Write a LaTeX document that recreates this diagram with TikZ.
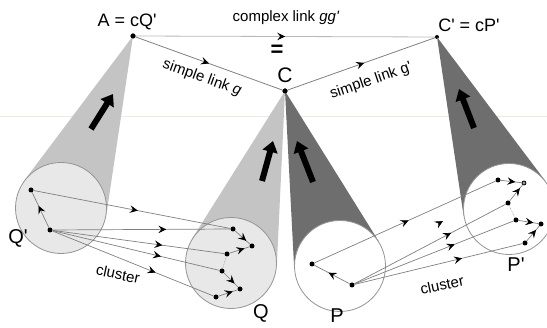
\documentclass[tikz,border=0pt]{standalone}
\usepackage{fontspec}
\setmainfont{Liberation Sans}
\usetikzlibrary{arrows.meta,decorations.markings,calc}
\definecolor{conelight}{HTML}{C4C4C4}
\definecolor{conedark}{HTML}{6E6E6E}
\definecolor{circfill}{HTML}{E8E8E8}
\definecolor{ringgray}{HTML}{959595}
\definecolor{linegray}{HTML}{808080}
\definecolor{toplight}{HTML}{B8B8B8}
\definecolor{scanline}{HTML}{EFEAE3}
\tikzset{
  dotnode/.style={circle, fill=black, inner sep=0pt, minimum size=5pt},
  clus/.style={draw=linegray, line width=0.7pt},
  midarr/.style={postaction={decorate}, decoration={markings, mark=at position #1 with {\arrow{Stealth[length=8pt,width=7.5pt,inset=3pt,color=black]}}}},
  bigarrow/.style={line width=6pt, black, -{Triangle[length=11pt,width=15pt]}},
  ring/.style={circle, inner sep=0pt, minimum size=91pt, draw=ringgray, line width=0.8pt},
  lbl/.style={inner sep=0pt, font=\fontsize{15}{15}\selectfont},
  biglbl/.style={inner sep=0pt, font=\fontsize{20}{20}\selectfont},
}
\begin{document}
\begin{tikzpicture}[x=1pt,y=-1pt]
\useasboundingbox (0,0) rectangle (547,328);
% faint scan line
\draw[scanline, line width=1pt] (0,117) -- (547,117);

% apex points
\node[dotnode] (A) at (133,36) {};
\node[dotnode] (C) at (285,91) {};
\node[dotnode, minimum size=4pt] (Cp) at (437,37) {};

% circle nodes (invisible first, for tangents)
\node[ring, draw=none] (Qp) at (61,208) {};
\node[ring, draw=none] (Q) at (231,263) {};
\node[ring, draw=none] (P) at (340,266) {};
\node[ring, draw=none] (Pp) at (509,209) {};

% cones
\fill[conelight] (A.center) -- (tangent cs:node=Qp,point={(A.center)},solution=1) -- (Qp.center) -- (tangent cs:node=Qp,point={(A.center)},solution=2) -- cycle;
\fill[conelight] (C.center) -- (tangent cs:node=Q,point={(C.center)},solution=1) -- (Q.center) -- (tangent cs:node=Q,point={(C.center)},solution=2) -- cycle;
\fill[conedark] (C.center) -- (tangent cs:node=P,point={(C.center)},solution=1) -- (P.center) -- (tangent cs:node=P,point={(C.center)},solution=2) -- cycle;
\fill[conedark] (Cp.center) -- (tangent cs:node=Pp,point={(Cp.center)},solution=1) -- (Pp.center) -- (tangent cs:node=Pp,point={(Cp.center)},solution=2) -- cycle;

% circles
\node[ring, fill=circfill] at (Qp.center) {};
\node[ring, fill=circfill] at (Q.center) {};
\node[ring, fill=white] at (P.center) {};
\node[ring, fill=white] at (Pp.center) {};

% big black arrows
\coordinate (ba1) at (91,129); \coordinate (ba1t) at (113,94);
\coordinate (ba2) at (262,181); \coordinate (ba2t) at (273,141);
\coordinate (ba3) at (313,182); \coordinate (ba3t) at (297,141);
\coordinate (ba4) at (474,128); \coordinate (ba4t) at (459,89);
\draw[bigarrow] (ba1) -- (ba1t);
\draw[bigarrow] (ba2) -- (ba2t);
\draw[bigarrow] (ba3) -- (ba3t);
\draw[bigarrow] (ba4) -- (ba4t);

% top links
\draw[toplight, line width=0.8pt, midarr=0.5] (A) -- (Cp);
\draw[linegray, line width=0.8pt, midarr=0.5] (A) -- (C);
\draw[linegray, line width=0.8pt, midarr=0.52] (C) -- (Cp);
\node[dotnode] at (A) {};
\node[dotnode] at (C) {};

% labels top
\node[inner sep=0pt, font=\fontsize{18}{18}\selectfont] (lA) at (127,22) {A = cQ\textquotesingle};
\node[lbl] (lgg) at (286,18) {complex link \textit{gg\textquotesingle}};
\node[inner sep=0pt, font=\fontsize{22}{22}\selectfont\bfseries] (leq) at (277,51) {=};
\node[inner sep=0pt, font=\fontsize{21}{21}\selectfont] (lC) at (285,75) {C};
\node[inner sep=0pt, font=\fontsize{18}{18}\selectfont] (lCp) at (469,25) {C\textquotesingle{} = cP\textquotesingle};
\node[lbl, rotate=-20] (lg) at (202,78) {simple link \textit{g}};
\node[lbl, rotate=19] (lgp) at (371,81) {simple link g\textquotesingle};

% left cluster Q' -> Q
\node[dotnode] (q1) at (31,190) {};
\node[dotnode] (q0) at (50,230) {};
\node[dotnode] (n1) at (233,229) {};
\node[dotnode] (n2) at (252,246) {};
\node[dotnode] (n3) at (227,254) {};
\node[dotnode] (n4) at (222,271) {};
\node[dotnode] (n5) at (240,289) {};
\node[dotnode] (n6) at (216,297) {};
\draw[clus, midarr=0.62] (q0) -- (q1);
\draw[clus, midarr=0.53] (q1) -- (n1);
\draw[clus, midarr=0.64] (q0) -- (n1);
\draw[clus, midarr=0.64] (q0) -- (n3);
\draw[clus, midarr=0.65] (q0) -- (n4);
\draw[clus, midarr=0.64] (q0) -- (n6);
\draw[clus, midarr=0.75] (n1) -- (n2);
\draw[clus, midarr=0.75] (n3) -- (n2);
\draw[clus, midarr=0.75] (n4) -- (n5);
\draw[clus, midarr=0.75] (n6) -- (n5);
\draw[ringgray, densely dotted, line width=0.6pt] (n3) -- (n4);

% right cluster P -> P'
\node[dotnode] (p1) at (312,264) {};
\node[dotnode] (p0) at (352,285) {};
\node[dotnode] (m1) at (498,180) {};
\node[circle, draw=black, fill=ringgray, inner sep=0pt, minimum size=4pt, line width=0.8pt] (m2) at (524,183) {};
\node[dotnode] (m3) at (508,203) {};
\node[dotnode] (m4) at (516,220) {};
\node[dotnode] (m5) at (541,224) {};
\node[dotnode] (m6) at (525,243) {};
\draw[clus, midarr=0.6] (p0) -- (p1);
\draw[clus, midarr=0.52] (p1) -- (m1);
\draw[clus, midarr=0.64] (p0) -- (m3);
\draw[clus, midarr=0.63] (p0) -- (m4);
\draw[clus, midarr=0.64] (p0) -- (m6);
\draw[clus, midarr=0.7] (m1) -- (m2);
\draw[clus, midarr=0.8] (m3) -- (m2);
\draw[clus, midarr=0.75] (m4) -- (m5);
\draw[clus, midarr=0.75] (m6) -- (m5);
\draw[ringgray, densely dotted, line width=0.6pt] (m3) -- (m4);
% stray arrowhead
\coordinate (sa0) at (436,225); \coordinate (sa1) at (443,221);
\path[midarr=1] (sa0) -- (sa1);

% circle labels
\node[biglbl] (lQp) at (18,238) {Q\textquotesingle};
\node[biglbl] (lQ) at (261,313) {Q};
\node[biglbl] (lP) at (337,316) {P};
\node[biglbl] (lPp) at (516,265) {P\textquotesingle};
\node[lbl, rotate=-12] (lc1) at (118,274) {cluster};
\node[lbl, rotate=12] (lc2) at (442,285) {cluster};
\end{tikzpicture}
\end{document}
